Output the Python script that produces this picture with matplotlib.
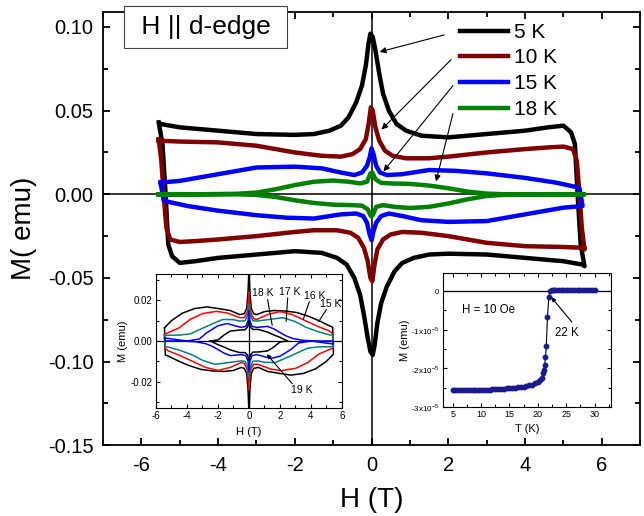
import numpy as np
import matplotlib
matplotlib.use("Agg")
import matplotlib.pyplot as plt
from matplotlib.ticker import MultipleLocator, FixedLocator, FormatStrFormatter

plt.rcParams['font.family'] = ['Liberation Sans', 'DejaVu Sans']
plt.rcParams['mathtext.fontset'] = 'custom'
plt.rcParams['mathtext.rm'] = 'Liberation Sans'
plt.rcParams['axes.unicode_minus'] = False

# ---- main loops: half loop from (-Hmax, +M) to (+Hmax, -M); other half is (-H, -M)
h_5k = [-5.5, -5.0, -4.0, -3.0, -2.0, -1.5, -1.1, -0.8, -0.6, -0.4, -0.25, -0.15,
        -0.08, -0.03, 0.03, 0.1, 0.2, 0.3, 0.45, 0.65, 0.9, 1.3, 2.0, 3.0, 4.0,
        4.6, 5.0, 5.2, 5.3, 5.37, 5.45, 5.55]
m_5k = [0.042, 0.040, 0.038, 0.036, 0.0355, 0.036, 0.038, 0.041, 0.046, 0.055,
        0.065, 0.077, 0.090, 0.096, 0.094, 0.086, 0.072, 0.060, 0.050, 0.042,
        0.038, 0.035, 0.034, 0.036, 0.038, 0.040, 0.041, 0.037, 0.030, 0.0,
        -0.030, -0.043]

h_10k = [-5.55, -5.0, -4.0, -3.0, -2.0, -1.3, -0.8, -0.5, -0.3, -0.15, -0.07,
         -0.02, 0.03, 0.1, 0.2, 0.35, 0.55, 0.9, 1.5, 2.0, 3.0, 4.0, 4.6, 5.0,
         5.25, 5.35, 5.42, 5.48, 5.55]
m_10k = [0.032, 0.0315, 0.031, 0.029, 0.025, 0.023, 0.0225, 0.024, 0.027, 0.033,
         0.043, 0.052, 0.050, 0.040, 0.032, 0.026, 0.023, 0.0215, 0.0215, 0.0225,
         0.025, 0.027, 0.028, 0.0285, 0.027, 0.020, 0.0, -0.020, -0.033]

h_15k = [-5.5, -5.0, -4.0, -3.0, -2.0, -1.3, -0.8, -0.45, -0.25, -0.12, -0.05,
         0.0, 0.05, 0.12, 0.22, 0.4, 0.8, 1.5, 2.2, 3.0, 4.0, 4.8, 5.3, 5.42, 5.5]
m_15k = [0.007, 0.008, 0.012, 0.016, 0.0165, 0.0155, 0.013, 0.0115, 0.013, 0.017,
         0.022, 0.0275, 0.024, 0.017, 0.013, 0.0115, 0.012, 0.0145, 0.014, 0.0125,
         0.0098, 0.007, 0.0045, 0.0035, -0.007]

h_18k = [-5.55, -4.5, -3.5, -3.0, -2.5, -2.0, -1.5, -1.0, -0.6, -0.3, -0.12,
         -0.03, 0.02, 0.1, 0.25, 0.5, 1.0, 1.5, 2.0, 2.5, 3.0, 3.5, 4.5, 5.55]
m_18k = [0.0, 0.0, 0.0003, 0.001, 0.003, 0.0055, 0.0075, 0.0082, 0.0075, 0.0065,
         0.0075, 0.0125, 0.013, 0.009, 0.0068, 0.0065, 0.0062, 0.0052, 0.0036,
         0.0016, 0.0004, 0.0, 0.0, 0.0]

main_labels = ['5 K', '10 K', '15 K', '18 K']
main_colors = ['black', '#800000', '#0000ff', '#008000']

# ---- inset: loops between 15 K and 19 K
hi_15k = [-5.45, -5.0, -4.3, -3.5, -2.7, -2.0, -1.2, -0.6, -0.3, -0.15, -0.06, 0.0,
          0.06, 0.15, 0.3, 0.5, 1.0, 1.6, 2.3, 3.1, 3.9, 4.6, 5.1, 5.4, 5.45]
mi_15k = [0.0065, 0.010, 0.0137, 0.016, 0.0168, 0.016, 0.015, 0.013, 0.0135, 0.016,
          0.024, 0.036, 0.024, 0.016, 0.0135, 0.013, 0.0145, 0.015, 0.0148, 0.014,
          0.012, 0.0097, 0.0078, 0.0068, -0.0065]
hi_16k = [-5.45, -4.5, -3.8, -3.0, -2.1, -1.4, -0.6, -0.3, -0.12, -0.04, 0.0, 0.04,
          0.12, 0.3, 0.5, 1.2, 2.0, 2.8, 3.7, 4.5, 5.2, 5.42, 5.45]
mi_16k = [0.0033, 0.0065, 0.0106, 0.0135, 0.0146, 0.0138, 0.0115, 0.0115, 0.014,
          0.019, 0.024, 0.019, 0.014, 0.011, 0.0106, 0.013, 0.0145, 0.013, 0.0098,
          0.007, 0.0049, 0.0035, -0.0033]
hi_17k = [-5.45, -4.5, -3.8, -2.7, -1.7, -1.0, -0.6, -0.25, -0.08, 0.0, 0.08, 0.25,
          0.5, 1.2, 2.2, 3.0, 3.7, 4.5, 5.2, 5.42, 5.45]
mi_17k = [0.0028, 0.0029, 0.0035, 0.0073, 0.0106, 0.0105, 0.0098, 0.010, 0.013,
          0.018, 0.013, 0.010, 0.0098, 0.0105, 0.0115, 0.0095, 0.0067, 0.0045,
          0.0030, 0.0028, -0.0028]
hi_18k = [-5.45, -4.0, -3.2, -2.7, -2.0, -1.4, -0.9, -0.5, -0.2, -0.06, 0.0, 0.06,
          0.2, 0.5, 1.2, 1.6, 2.0, 2.4, 2.8, 3.5, 4.5, 5.42, 5.45]
mi_18k = [0.0015, 0.0, 0.001, 0.0042, 0.0075, 0.0086, 0.0075, 0.0067, 0.0072, 0.010,
          0.015, 0.010, 0.0072, 0.0067, 0.0072, 0.006, 0.0042, 0.0025, 0.0013,
          0.0003, 0.0, 0.0, -0.0015]
hi_19k = [-2.5, -2.0, -1.6, -1.2, -0.6, -0.25, -0.08, 0.0, 0.08, 0.25, 0.6, 1.2,
          1.6, 2.0, 2.5]
mi_19k = [0.0, 0.0005, 0.003, 0.0049, 0.0054, 0.0055, 0.007, 0.010, 0.007, 0.0057,
          0.0057, 0.0044, 0.003, 0.0018, 0.0]
inset_colors = ['black', 'red', '#008080', 'blue', 'black']

# ---- ZFC magnetisation at H = 10 Oe (units of 1e-5 emu)
t_zfc = [5.0, 5.5, 6.0, 6.5, 7.0, 7.5, 8.0, 8.5, 9.0, 9.5, 10.0, 10.5, 11.0, 11.5,
         12.0, 12.5, 13.0, 13.5, 14.0, 14.5, 15.0, 15.5, 16.0, 16.5, 17.0, 17.5,
         18.0, 18.5, 19.0, 19.5, 20.0, 20.4, 20.7, 20.9, 21.05, 21.2, 21.35, 21.5,
         21.7, 21.95, 22.2, 22.5, 22.8, 23.1, 23.5, 24.0, 24.5, 25.0, 25.5, 26.0,
         26.5, 27.0, 27.5, 28.0, 28.5, 29.0, 29.5, 30.0]
m_zfc = [-2.56, -2.56, -2.57, -2.57, -2.57, -2.57, -2.56, -2.56, -2.56, -2.56,
         -2.56, -2.55, -2.55, -2.55, -2.54, -2.54, -2.54, -2.53, -2.53, -2.52,
         -2.52, -2.51, -2.50, -2.49, -2.48, -2.47, -2.46, -2.44, -2.42, -2.39,
         -2.35, -2.30, -2.24, -2.13, -2.05, -1.92, -1.70, -1.43, -0.67, -0.14,
         0.0, 0.03, 0.04, 0.03, 0.02, 0.04, 0.03, 0.02, 0.03, 0.02, 0.03, 0.04,
         0.02, 0.03, 0.02, 0.03, 0.02, 0.02]


def closed_loop(h, m):
    h = np.asarray(h)
    m = np.asarray(m)
    return np.concatenate([h, -h]), np.concatenate([m, -m])


def style_ticks(ax, size, major, minor, width, pad):
    ax.tick_params(which='both', direction='in', top=True, right=True,
                   width=width, labelsize=size, pad=pad)
    ax.tick_params(which='major', length=major)
    ax.tick_params(which='minor', length=minor)
    for s in ax.spines.values():
        s.set_linewidth(width)


fig = plt.figure(figsize=(6.44, 5.16), dpi=100)
ax = fig.add_axes([0.160, 0.137, 0.834, 0.840])

ax.axhline(0, color='k', lw=1.1, zorder=1)
ax.axvline(0, color='k', lw=1.1, zorder=1)

loops = [(h_5k, m_5k), (h_10k, m_10k), (h_15k, m_15k), (h_18k, m_18k)]
for (h, m), c, lab in zip(loops, main_colors, main_labels):
    hh, mm = closed_loop(h, m)
    ax.plot(hh, mm, color=c, lw=3.2, label=lab, solid_joinstyle='round', zorder=3)

ax.set_xlim(-7, 7)
ax.set_ylim(-0.15, 0.109)
ax.xaxis.set_major_locator(MultipleLocator(2))
ax.xaxis.set_minor_locator(MultipleLocator(1))
ax.yaxis.set_major_locator(MultipleLocator(0.05))
ax.yaxis.set_minor_locator(MultipleLocator(0.025))
ax.yaxis.set_major_formatter(FormatStrFormatter('%.2f'))
style_ticks(ax, 14.5, 5, 3.5, 1.3, 7)
ax.tick_params(axis='x', pad=8)
ax.set_xlabel('H (T)', fontsize=20, labelpad=8)
ax.set_ylabel('M( emu)', fontsize=20, labelpad=8)

ax.legend(loc='upper left', bbox_to_anchor=(0.63, 1.018), frameon=False, fontsize=15,
          handlelength=2.3, handletextpad=0.3, labelspacing=0.32, borderpad=0.4)

ax.text(-6.2, 0.1, ' H || d-edge ', fontsize=19, ha='left', va='center', zorder=6,
        bbox=dict(boxstyle='square,pad=0.35', fc='white', ec='#444444', lw=0.8))

# arrows from the legend entries to the peaks
arrow_starts = [(1.89, 0.0952), (2.07, 0.0804), (2.12, 0.0649), (2.12, 0.0482)]
arrow_ends = [(0.21, 0.0851), (0.26, 0.0387), (0.31, 0.0137), (1.68, 0.0077)]
for s, e in zip(arrow_starts, arrow_ends):
    ax.annotate('', xy=e, xytext=s,
                arrowprops=dict(arrowstyle='-|>', color='k', lw=0.8,
                                mutation_scale=9, shrinkA=0, shrinkB=0), zorder=5)

# ---- left inset
ins = fig.add_axes([0.2422, 0.2093, 0.2888, 0.2597])
ins.axhline(0, color='k', lw=0.9, zorder=1)
ins.axvline(0, color='k', lw=0.9, zorder=1)
inset_loops = [(hi_15k, mi_15k), (hi_16k, mi_16k), (hi_17k, mi_17k),
               (hi_18k, mi_18k), (hi_19k, mi_19k)]
for (h, m), c in zip(inset_loops, inset_colors):
    hh, mm = closed_loop(h, m)
    ins.plot(hh, mm, color=c, lw=1.1, zorder=2)
ins.set_xlim(-6, 6)
ins.set_ylim(-0.033, 0.033)
ins.xaxis.set_major_locator(MultipleLocator(2))
ins.xaxis.set_minor_locator(MultipleLocator(1))
ins.yaxis.set_major_locator(MultipleLocator(0.02))
ins.yaxis.set_minor_locator(MultipleLocator(0.01))
ins.yaxis.set_major_formatter(FormatStrFormatter('%.2f'))
style_ticks(ins, 7, 3, 2, 0.8, 2.5)
ins.set_xlabel('H (T)', fontsize=8, labelpad=4)
ins.set_ylabel('M (emu)', fontsize=8, labelpad=2)

inset_names = ['18 K', '17 K', '16 K', '15 K']
name_pos = [(0.9, 0.0238), (2.65, 0.0242), (4.26, 0.0223), (5.25, 0.0184)]
line_from = [(1.2, 0.0204), (2.5, 0.0213), (3.9, 0.0194), (5.0, 0.0155)]
line_to = [(1.5, 0.0077), (2.4, 0.0096), (3.5, 0.0106), (4.5, 0.0096)]
for name, p, s, e in zip(inset_names, name_pos, line_from, line_to):
    ins.text(p[0], p[1], name, fontsize=7.5, ha='center', va='center')
    ins.annotate('', xy=e, xytext=s,
                 arrowprops=dict(arrowstyle='-', color='k', lw=0.8,
                                 shrinkA=0, shrinkB=0))
ins.text(3.4, -0.024, '19 K', fontsize=7.5, ha='center', va='center')
ins.annotate('', xy=(1.15, -0.0065), xytext=(2.8, -0.0211),
             arrowprops=dict(arrowstyle='-|>', color='k', lw=0.8,
                             mutation_scale=6, shrinkA=0, shrinkB=0))

# ---- right inset
ins2 = fig.add_axes([0.6879, 0.2112, 0.2609, 0.2597])
ins2.axhline(0, color='k', lw=0.9, zorder=1)
ins2.plot(t_zfc, m_zfc, color='k', lw=0.8, zorder=2)
ins2.plot(t_zfc, m_zfc, 'o', color='#1a1a8c', ms=3.2, mec='#1a1a8c', zorder=3)
ins2.set_xlim(3.3, 32.9)
ins2.set_ylim(-3.0, 0.47)
ins2.xaxis.set_major_locator(MultipleLocator(5))
ins2.xaxis.set_minor_locator(MultipleLocator(2.5))
ins2.yaxis.set_major_locator(FixedLocator([-3, -2, -1, 0]))
ins2.yaxis.set_minor_locator(MultipleLocator(0.5))
ins2.set_yticklabels([r'-3x10$^{-5}$', r'-2x10$^{-5}$', r'-1x10$^{-5}$', '0'])
style_ticks(ins2, 6.5, 3, 2, 0.8, 2.5)
ins2.tick_params(axis='y', labelsize=5.8)
ins2.set_xlabel('T (K)', fontsize=8, labelpad=3)
ins2.set_ylabel('M (emu)', fontsize=8, labelpad=1)
ins2.text(6.6, -0.49, 'H = 10 Oe', fontsize=8.3, ha='left', va='center')
ins2.text(25.2, -1.09, '22 K', fontsize=8.3, ha='center', va='center')
ins2.annotate('', xy=(22.4, -0.16), xytext=(26.0, -0.8),
              arrowprops=dict(arrowstyle='-|>', color='k', lw=0.8,
                              mutation_scale=6, shrinkA=0, shrinkB=0))

fig.savefig('out.png', dpi=100)
